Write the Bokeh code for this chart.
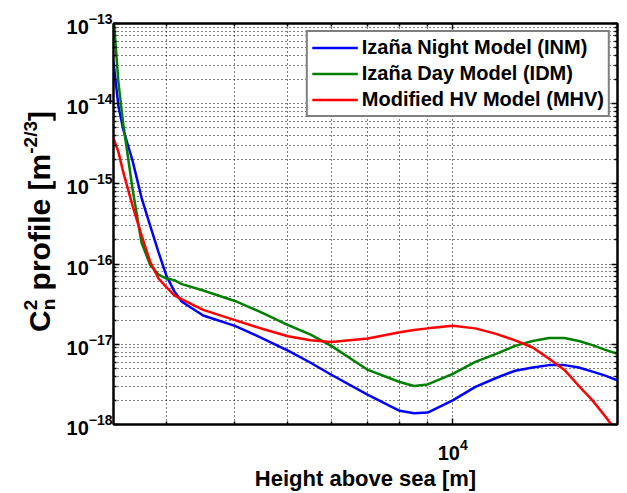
from bokeh.plotting import figure
from bokeh.layouts import row
from bokeh.models import Range1d, FixedTicker, LogAxis, Legend, LegendItem, Div
from bokeh.embed import file_html
from bokeh.resources import INLINE

# ---------------- data ----------------
heights = [2400, 2450, 2500, 2600, 2700, 2800, 2900, 3000, 3100, 3200, 3500,
           4000, 4500, 5000, 5500, 6000, 7000, 8000, 8500, 9000, 10000,
           11000, 12000, 13000, 14000, 15000, 16000, 17000, 18000, 19000, 20000]

inm = [3.31e-14, 9.33e-15, 4.79e-15, 1.95e-15, 6.76e-16, 3.02e-16, 1.41e-16,
       7.08e-17, 4.57e-17, 3.39e-17, 2.29e-17, 1.70e-17, 1.18e-17, 8.32e-18,
       5.89e-18, 4.17e-18, 2.34e-18, 1.48e-18, 1.38e-18, 1.41e-18, 2.00e-18,
       2.95e-18, 3.80e-18, 4.68e-18, 5.13e-18, 5.50e-18, 5.50e-18, 5.13e-18,
       4.57e-18, 4.07e-18, 3.55e-18]

idm = [1.26e-13, 1.86e-14, 5.62e-15, 8.71e-16, 1.86e-16, 9.77e-17, 7.41e-17,
       6.61e-17, 6.31e-17, 5.62e-17, 4.68e-17, 3.47e-17, 2.45e-17, 1.74e-17,
       1.32e-17, 9.55e-18, 4.79e-18, 3.39e-18, 3.02e-18, 3.16e-18, 4.27e-18,
       6.03e-18, 7.59e-18, 9.55e-18, 1.10e-17, 1.20e-17, 1.20e-17, 1.10e-17,
       9.77e-18, 8.51e-18, 7.59e-18]

mhv = [3.72e-15, 2.51e-15, 1.41e-15, 5.37e-16, 2.29e-16, 1.07e-16, 6.61e-17,
       5.13e-17, 4.07e-17, 3.63e-17, 2.69e-17, 2.00e-17, 1.55e-17, 1.26e-17,
       1.12e-17, 1.07e-17, 1.18e-17, 1.41e-17, 1.51e-17, 1.58e-17, 1.70e-17,
       1.58e-17, 1.35e-17, 1.12e-17, 9.12e-18, 6.61e-18, 4.79e-18, 3.02e-18,
       2.00e-18, 1.26e-18, 7.94e-19]

series_names = ["Izaña Night Model (INM)", "Izaña Day Model (IDM)", "Modified HV Model (MHV)"]
series_colors = ["#0000ff", "#008000", "#ff0000"]

x_limits = [2400, 20000]
y_limits = [1e-18, 1e-13]
x_major = [10000]
x_minor = [3000, 4000, 5000, 6000, 7000, 8000, 9000, 20000]
y_exponents = [-13, -14, -15, -16, -17, -18]

x_title = "Height above sea [m]"
# y title pieces: C, superscript 2, subscript n, " profile [m", superscript -2/3, "]"
y_title_parts = ["C", "2", "n", " profile [m", "-2/3", "]"]

FONT = "Liberation Sans"
TITLE_W = 55
H = 493

# ---------------- main figure ----------------
p = figure(width=627 - TITLE_W, height=H, x_axis_type="log", y_axis_type="log",
           x_range=Range1d(*x_limits), y_range=Range1d(*y_limits),
           output_backend="svg", toolbar_location=None,
           min_border_left=113 - TITLE_W, min_border_right=10,
           min_border_top=23, min_border_bottom=67)
p.background_fill_color = "white"
p.border_fill_color = "white"
p.outline_line_color = "black"
p.outline_line_width = 2

y_major = [10.0 ** e for e in y_exponents]
y_minor = [m * 10.0 ** e for e in range(-18, -13) for m in range(2, 10)]
xt = FixedTicker(ticks=x_major, minor_ticks=x_minor)
yt = FixedTicker(ticks=y_major, minor_ticks=y_minor)

bottom_ax = p.xaxis[0]
left_ax = p.yaxis[0]
bottom_ax.ticker = xt
left_ax.ticker = yt
top_ax = LogAxis(ticker=xt)
right_ax = LogAxis(ticker=yt)
p.add_layout(top_ax, "above")
p.add_layout(right_ax, "right")

for ax in (bottom_ax, left_ax, top_ax, right_ax):
    ax.major_tick_in = 6
    ax.major_tick_out = 0
    ax.minor_tick_in = 3
    ax.minor_tick_out = 0
    ax.major_tick_line_color = "black"
    ax.minor_tick_line_color = "black"
    ax.major_tick_line_width = 1.5
    ax.minor_tick_line_width = 1.5
    ax.axis_line_color = "black"
    ax.axis_line_width = 2
    ax.major_label_text_font = FONT
    ax.major_label_text_font_style = "bold"
    ax.major_label_text_color = "black"
    ax.major_label_text_font_size = "20px"

for ax in (top_ax, right_ax):
    ax.major_label_text_font_size = "1px"
    ax.major_label_text_alpha = 0
    ax.major_label_standoff = 0

left_ax.major_label_standoff = 1
bottom_ax.major_label_standoff = 14
bottom_ax.axis_label = x_title
bottom_ax.axis_label_text_font = FONT
bottom_ax.axis_label_text_font_style = "bold"
bottom_ax.axis_label_text_font_size = "22px"
bottom_ax.axis_label_text_color = "black"
bottom_ax.axis_label_standoff = 3

p.xgrid.ticker = xt
p.ygrid.ticker = yt
for g in p.grid:
    g.grid_line_color = "black"
    g.grid_line_dash = "1 3"
    g.grid_line_width = 1
    g.minor_grid_line_color = "black"
    g.minor_grid_line_dash = "1 3"
    g.minor_grid_line_width = 1

# ---------------- lines ----------------
renderers = []
for ys, c in zip([inm, idm, mhv], series_colors):
    renderers.append(p.line(heights, ys, line_color=c, line_width=2.5))

legend = Legend(items=[LegendItem(label=n, renderers=[r]) for n, r in zip(series_names, renderers)],
                location="top_right")
legend.margin = 7
legend.padding = 4
legend.spacing = 3
legend.label_height = 23
legend.glyph_height = 23
legend.glyph_width = 46
legend.label_standoff = 4
legend.label_text_font = FONT
legend.label_text_font_style = "bold"
legend.label_text_font_size = "20px"
legend.label_text_color = "black"
legend.border_line_color = "black"
legend.border_line_width = 2
legend.background_fill_color = "white"
legend.background_fill_alpha = 1
p.add_layout(legend)

# ---------------- y axis title (rotated HTML text with sub/superscripts) ----------------
c_txt, sup_txt, sub_txt, mid_txt, sup2_txt, end_txt = y_title_parts
title_html = (
    f'<div style="position:relative;width:{TITLE_W}px;height:{H}px;overflow:visible;background:white;">'
    '<div style="position:absolute;left:25px;top:332px;transform-origin:0 0;'
    'transform:rotate(-90deg);white-space:nowrap;'
    f"font-family:'{FONT}';font-weight:bold;font-size:30px;line-height:30px;color:black;\">"
    f'{c_txt}'
    f'<span style="position:relative;top:-13px;font-size:19px;">{sup_txt}</span>'
    f'<span style="position:relative;top:5px;font-size:19px;margin-left:-10.6px;">{sub_txt}</span>'
    f'{mid_txt}'
    f'<span style="position:relative;top:-13px;font-size:19px;">{sup2_txt}</span>'
    f'{end_txt}</div></div>'
)
t = Div(text=title_html, width=TITLE_W, height=H, margin=0)

layout = row(t, p)
open("out.html", "w").write(file_html(layout, INLINE))
